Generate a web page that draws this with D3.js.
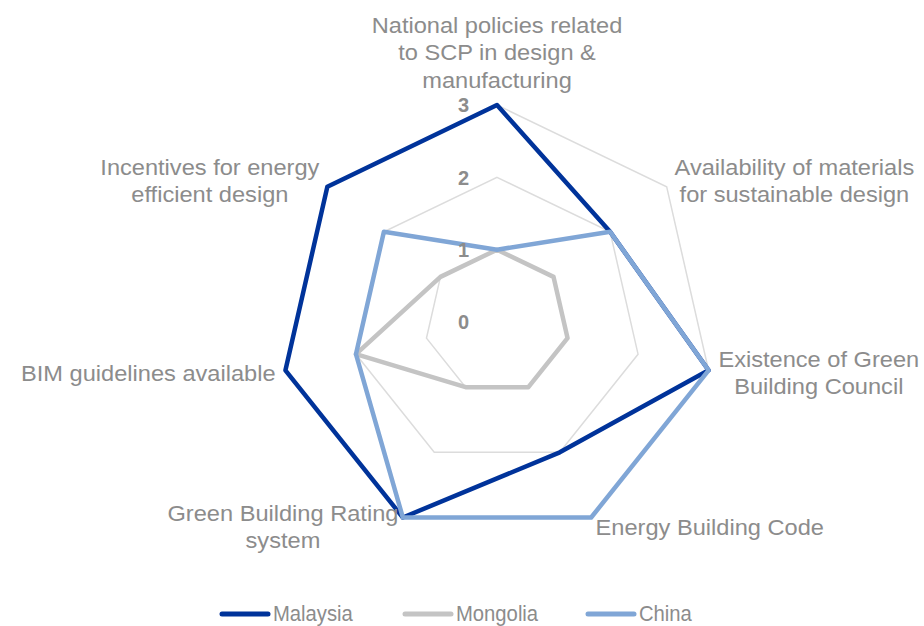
<!DOCTYPE html>
<html>
<head>
<meta charset="utf-8">
<script src="https://cdn.jsdelivr.net/npm/d3@7"></script>
<style>
  html, body { margin: 0; padding: 0; background: #fff; }
  svg { display: block; font-family: "Liberation Sans", Arial, sans-serif; }
</style>
</head>
<body>
<svg id="chart" width="924" height="626"></svg>
<script>
// ---- data ----
const categoryLines = [
  ["National policies related", "to SCP in design &", "manufacturing"],
  ["Availability of materials", "for sustainable design"],
  ["Existence of Green", "Building Council"],
  ["Energy Building Code"],
  ["Green Building Rating", "system"],
  ["BIM guidelines available"],
  ["Incentives for energy", "efficient design"]
];
const seriesNames = ["Malaysia", "Mongolia", "China"];
const malaysia = [3, 2, 3, 2, 3, 3, 3];
const mongolia = [1, 1, 1, 1, 1, 2, 1];
const china    = [1, 2, 3, 3, 3, 2, 2];
const tickValues = [0, 1, 2, 3];
const gridLevels = [1, 2, 3];

// ---- styles ----
const seriesValues = [malaysia, mongolia, china];
const seriesColors = ["#00339a", "#c4c4c4", "#80a6d6"];
const textColor = "#8c8c8c";
const gridColor = "#dcdcdc";

const W = 924, H = 626;
const cx = 497, cy = 322, R = 217;
const svg = d3.select("#chart");
const n = categoryLines.length;
const angle = i => i * 2 * Math.PI / n;
const r = d3.scaleLinear().domain([0, 3]).range([0, R]);

const g = svg.append("g").attr("transform", `translate(${cx},${cy})`);

// grid
const radial = d3.lineRadial()
  .angle((d, i) => angle(i))
  .radius(d => r(d))
  .curve(d3.curveLinearClosed);

g.selectAll("path.grid")
  .data(gridLevels)
  .join("path")
  .attr("class", "grid")
  .attr("d", lv => radial(d3.range(n).map(() => lv)))
  .attr("fill", "none")
  .attr("stroke", gridColor)
  .attr("stroke-width", 1.5);

// series
g.selectAll("path.series")
  .data(seriesValues)
  .join("path")
  .attr("class", "series")
  .attr("d", d => radial(d))
  .attr("fill", "none")
  .attr("stroke", (d, i) => seriesColors[i])
  .attr("stroke-width", 4.5)
  .attr("stroke-linejoin", "round");

// tick labels
g.selectAll("text.tick")
  .data(tickValues)
  .join("text")
  .attr("class", "tick")
  .attr("x", -28)
  .attr("y", d => -r(d))
  .attr("dy", "0.36em")
  .attr("text-anchor", "end")
  .attr("font-size", 20)
  .attr("font-weight", "bold")
  .attr("fill", textColor)
  .text(d => d);

// category labels
const fs = 22.5, lh = 27.5, capH = fs * 0.716, pad = 10, sx = 1.05;
categoryLines.forEach((lines, i) => {
  const a = angle(i);
  const s = Math.sin(a), c = Math.cos(a);
  const px = cx + r(3) * s, py = cy - r(3) * c;
  const lg = svg.append("g");
  const texts = lines.map(t => lg.append("text")
    .attr("font-size", fs)
    .attr("fill", textColor)
    .attr("text-anchor", "middle")
    .text(t));
  const maxW = d3.max(texts, t => t.node().getComputedTextLength()) * sx;
  let blockCx, base0;
  const blockH = (lines.length - 1) * lh + capH;
  if (Math.abs(s) < 0.1) {
    blockCx = px;
    const lastBase = py - 17;
    base0 = lastBase - (lines.length - 1) * lh;
  } else {
    const yc = py - pad * c;
    base0 = yc - blockH / 2 + capH;
    if (s > 0) blockCx = px + pad * s + maxW / 2;
    else blockCx = px + pad * s - maxW / 2;
  }
  lg.attr("transform", `translate(${blockCx},${base0}) scale(${sx},1)`);
  texts.forEach((t, k) => t.attr("x", 0).attr("y", k * lh));
});

// legend
const legendStep = 183, lineLen = 46, legendY = 614;
const legendStart = 222;
const lgd = svg.append("g");
seriesNames.forEach((name, i) => {
  const x0 = legendStart + i * legendStep;
  lgd.append("line")
    .attr("x1", x0).attr("x2", x0 + lineLen)
    .attr("y1", legendY).attr("y2", legendY)
    .attr("stroke", seriesColors[i])
    .attr("stroke-width", 5)
    .attr("stroke-linecap", "round");
  lgd.append("text")
    .attr("transform", `translate(${x0 + lineLen + 5},${legendY + 7}) scale(0.9,1)`)
    .attr("font-size", 22.5)
    .attr("fill", textColor)
    .text(name);
});
</script>
</body>
</html>
